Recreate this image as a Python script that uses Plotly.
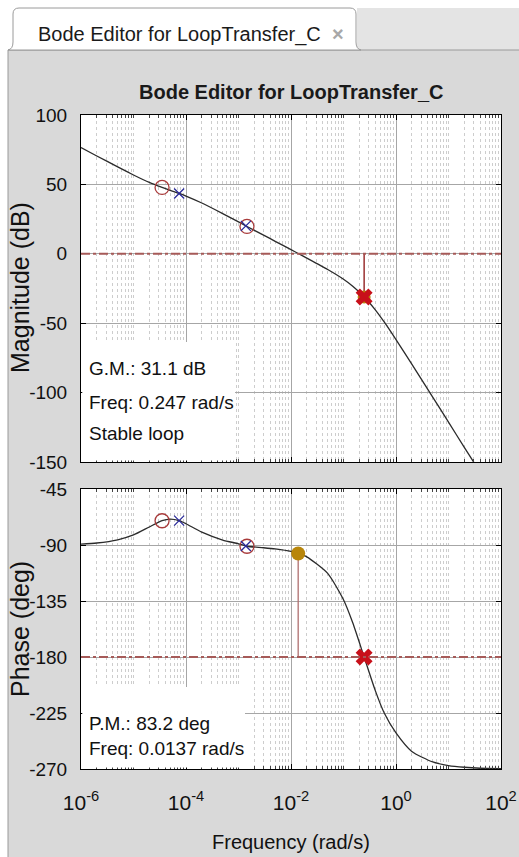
import plotly.graph_objects as go

# ---------------- data ----------------
freq = [1e-6, 2e-6, 5e-6, 1e-5, 2e-5, 3.5e-5, 5e-5, 7.4e-5, 1e-4, 2e-4, 5e-4, 1e-3,
        1.45e-3, 3e-3, 5e-3, 0.01, 0.0137, 0.02, 0.05, 0.1, 0.15, 0.247, 0.4, 0.6,
        1, 2, 5, 10, 20, 40, 100]
mag_db = [76.5, 70.5, 62.6, 56.8, 51.4, 47.8, 45.7, 43.5, 41.6, 36.6, 29.0, 23.0,
          19.7, 13.5, 9.0, 3.0, 0.2, -3.1, -11.3, -18.3, -23.3, -30.9, -40.2, -49.3,
          -61.8, -79.5, -103.2, -121.3, -139.4, -157.4, -181.3]
phase_deg = [-89.3, -88.4, -85.8, -81.9, -75.5, -70.5, -69.2, -70.4, -72.9, -79.7, -86.0, -89.0,
             -91.0, -92.2, -93.2, -95.2, -96.8, -99.5, -112.8, -134.0, -152.5, -180.0, -206.6, -225.2,
             -241.0, -255.9, -264.3, -267.2, -268.6, -269.4, -269.7]

zero_freq = [3.5e-5, 1.45e-3]
zero_mag = [47.8, 19.7]
zero_phase = [-70.5, -91.0]
pole_freq = [7.4e-5, 1.38e-3]
pole_mag = [43.5, 20.1]
pole_phase = [-70.4, -90.8]

gm_db = 31.1
gm_freq = 0.247
pm_deg = 83.2
pm_freq = 0.0137
mag_ref = 0
phase_ref = -180

freq_tickvals = [1e-6, 1e-4, 1e-2, 1, 100]
freq_ticktext = ["10<sup>-6</sup>", "10<sup>-4</sup>", "10<sup>-2</sup>", "10<sup>0</sup>", "10<sup>2</sup>"]
mag_tickvals = [-150, -100, -50, 0, 50, 100]
mag_ticktext = ["-150", "-100", "-50", "0", "50", "100"]
phase_tickvals = [-270, -225, -180, -135, -90, -45]
phase_ticktext = ["-270", "-225", "-180", "-135", "-90", "-45"]

x_log_range = [-6, 2]
mag_range = [-150, 100]
phase_range = [-270, -45]

# ---------------- styling ----------------
W, H = 519, 857
FONT = "Liberation Sans, Arial, Helvetica, sans-serif"
BG = "#d9d9d9"
CURVE = "#2b2b2b"
CIRC = "#a83a3a"
XBLUE = "#2a2a9a"
GOLD = "#b8860b"
REDX = "#c8101a"
REFLINE = "#a65a58"

def px_x(p):
    return p / W

def px_y(p):
    return 1 - p / H

fig = go.Figure()

# magnitude
fig.add_trace(go.Scatter(x=freq, y=mag_db, mode="lines", line=dict(color=CURVE, width=1.3, shape="spline", smoothing=0.6),
                         xaxis="x", yaxis="y", hoverinfo="skip"))
fig.add_trace(go.Scatter(x=zero_freq, y=zero_mag, mode="markers",
                         marker=dict(symbol="circle-open", size=14, color=CIRC, line=dict(width=1.3)), xaxis="x", yaxis="y"))
fig.add_trace(go.Scatter(x=pole_freq, y=pole_mag, mode="markers",
                         marker=dict(symbol="x-thin", size=10, line=dict(width=1.3, color=XBLUE)), xaxis="x", yaxis="y"))
fig.add_trace(go.Scatter(x=[gm_freq, gm_freq], y=[mag_ref, -gm_db], mode="lines",
                         line=dict(color="#8b1010", width=1.3), xaxis="x", yaxis="y"))
fig.add_trace(go.Scatter(x=[gm_freq], y=[-gm_db], mode="markers",
                         marker=dict(symbol="circle", size=13, color=GOLD), xaxis="x", yaxis="y"))
fig.add_trace(go.Scatter(x=[gm_freq], y=[-gm_db], mode="markers",
                         marker=dict(symbol="x", size=15, color=REDX, line=dict(width=0)), xaxis="x", yaxis="y"))

# phase
fig.add_trace(go.Scatter(x=freq, y=phase_deg, mode="lines", line=dict(color=CURVE, width=1.3, shape="spline", smoothing=0.6),
                         xaxis="x2", yaxis="y2"))
fig.add_trace(go.Scatter(x=zero_freq, y=zero_phase, mode="markers",
                         marker=dict(symbol="circle-open", size=14, color=CIRC, line=dict(width=1.3)), xaxis="x2", yaxis="y2"))
fig.add_trace(go.Scatter(x=pole_freq, y=pole_phase, mode="markers",
                         marker=dict(symbol="x-thin", size=10, line=dict(width=1.3, color=XBLUE)), xaxis="x2", yaxis="y2"))
fig.add_trace(go.Scatter(x=[pm_freq, pm_freq], y=[phase_ref + pm_deg, phase_ref], mode="lines",
                         line=dict(color="#b07070", width=1.3), xaxis="x2", yaxis="y2"))
fig.add_trace(go.Scatter(x=[pm_freq], y=[phase_ref + pm_deg], mode="markers",
                         marker=dict(symbol="circle", size=14, color=GOLD), xaxis="x2", yaxis="y2"))
fig.add_trace(go.Scatter(x=[gm_freq], y=[phase_ref], mode="markers",
                         marker=dict(symbol="x", size=15, color=REDX, line=dict(width=0)), xaxis="x2", yaxis="y2"))

xdom = [px_x(81), px_x(501)]
common_x = dict(type="log", range=x_log_range, tickmode="array", tickvals=freq_tickvals, ticktext=freq_ticktext,
                automargin=False,
                showgrid=True, gridcolor="#a6a6a6", gridwidth=1, zeroline=False,
                showline=True, linecolor="black", linewidth=1, mirror="allticks",
                ticks="inside", ticklen=5, tickcolor="black",
                minor=dict(dtick="D1", ticks="inside", ticklen=3, tickcolor="#444",
                           showgrid=True, gridcolor="#cdcdcd", griddash="dot", gridwidth=1),
                tickfont=dict(family=FONT, size=21, color="#111"))
common_y = dict(showgrid=True, gridcolor="#a6a6a6", gridwidth=1, zeroline=False, automargin=False,
                showline=True, linecolor="black", linewidth=1, mirror="allticks",
                ticks="inside", ticklen=5, tickcolor="black", ticklabelstandoff=9, tickmode="array",
                tickfont=dict(family=FONT, size=19, color="#111"))

fig.update_layout(
    template="none",
    width=W, height=H, margin=dict(l=0, r=0, t=0, b=0, autoexpand=False),
    paper_bgcolor=BG, plot_bgcolor="white", showlegend=False,
    font=dict(family=FONT, color="#111"),
    xaxis=dict(domain=xdom, anchor="y", showticklabels=False, **common_x),
    yaxis=dict(domain=[px_y(462), px_y(115)], anchor="x", range=mag_range,
               tickvals=mag_tickvals, ticktext=mag_ticktext, **common_y),
    xaxis2=dict(domain=xdom, anchor="y2", matches="x", showticklabels=True, ticklabelstandoff=15, **common_x),
    yaxis2=dict(domain=[px_y(769), px_y(489)], anchor="x2", range=phase_range,
                tickvals=phase_tickvals, ticktext=phase_ticktext, **common_y),
)

shapes = [
    # page chrome
    dict(type="rect", xref="paper", yref="paper", x0=0, x1=1, y0=px_y(50), y1=1, fillcolor="white", line=dict(width=0), layer="below"),
    dict(type="rect", xref="paper", yref="paper", x0=px_x(357), x1=1, y0=px_y(50), y1=px_y(8), fillcolor="#e4e4e4", line=dict(width=0), layer="below"),
    dict(type="rect", xref="paper", yref="paper", x0=0, x1=px_x(8), y0=0, y1=1, fillcolor="white", line=dict(width=0), layer="below"),
    dict(type="line", xref="paper", yref="paper", x0=px_x(8), x1=px_x(8), y0=0, y1=px_y(50), line=dict(color="#9a9a9a", width=1), layer="below"),
    dict(type="line", xref="paper", yref="paper", x0=px_x(8), x1=1, y0=px_y(50), y1=px_y(50), line=dict(color="#9a9a9a", width=1), layer="below"),
    dict(type="path", xref="paper", yref="paper",
         path=f"M {px_x(8)},{px_y(50)} Q {px_x(13)},{px_y(49)} {px_x(13)},{px_y(42)} L {px_x(13)},{px_y(14)} "
              f"Q {px_x(13)},{px_y(8)} {px_x(19)},{px_y(8)} L {px_x(350)},{px_y(8)} Q {px_x(356)},{px_y(8)} {px_x(356)},{px_y(14)} "
              f"L {px_x(356)},{px_y(42)} Q {px_x(356)},{px_y(49)} {px_x(361)},{px_y(50)} Z",
         fillcolor="white", line=dict(color="#9a9a9a", width=1), layer="below"),
    # text boxes (white panels over the grid)
    dict(type="rect", xref="x domain", yref="y domain", x0=0.003, x1=(235 - 81) / 420, y0=0.004, y1=(462 - 342) / 347,
         fillcolor="white", line=dict(width=0), layer="above"),
    dict(type="rect", xref="x2 domain", yref="y2 domain", x0=0.003, x1=(245 - 81) / 420, y0=0.005, y1=(769 - 687) / 280,
         fillcolor="white", line=dict(width=0), layer="above"),
    # reference lines
    dict(type="line", xref="x domain", yref="y", x0=0, x1=1, y0=mag_ref, y1=mag_ref,
         line=dict(color=REFLINE, width=2, dash="dashdot"), layer="above"),
    dict(type="line", xref="x2 domain", yref="y2", x0=0, x1=1, y0=phase_ref, y1=phase_ref,
         line=dict(color=REFLINE, width=2, dash="dashdot"), layer="above"),
]
fig.update_layout(shapes=shapes)

def txt(text, x, y, size=19, xanchor="left", bold=False, color="#111", angle=0):
    return dict(text=f"<b>{text}</b>" if bold else text, x=px_x(x), y=px_y(y), xref="paper", yref="paper",
                xanchor=xanchor, yanchor="middle", showarrow=False, textangle=angle,
                font=dict(family=FONT, size=size, color=color))

annotations = [
    txt("Bode Editor for LoopTransfer_C", 36, 34, size=20, color="#1a1a1a"),
    txt("×", 338, 34, size=20, xanchor="center", bold=True, color="#a8a8a8"),
    txt("Bode Editor for LoopTransfer_C", 291, 92, size=20, xanchor="center", bold=True, color="#1a1a1a"),
    txt("Magnitude (dB)", 20, 288, size=25, xanchor="center", angle=-90),
    txt("Phase (deg)", 20, 629, size=25, xanchor="center", angle=-90),
    txt("Frequency (rad/s)", 291, 842, size=20, xanchor="center"),
    txt(f"G.M.: {gm_db} dB", 87, 369),
    txt(f"Freq: {gm_freq} rad/s", 87, 402),
    txt("Stable loop", 87, 433),
    txt(f"P.M.: {pm_deg} deg", 87, 723),
    txt(f"Freq: {pm_freq} rad/s", 87, 748),
]
fig.update_layout(annotations=annotations)

fig.write_html("out.html", config={"displayModeBar": False},
               post_script="document.body.style.margin='0';document.body.style.overflow='hidden';")
